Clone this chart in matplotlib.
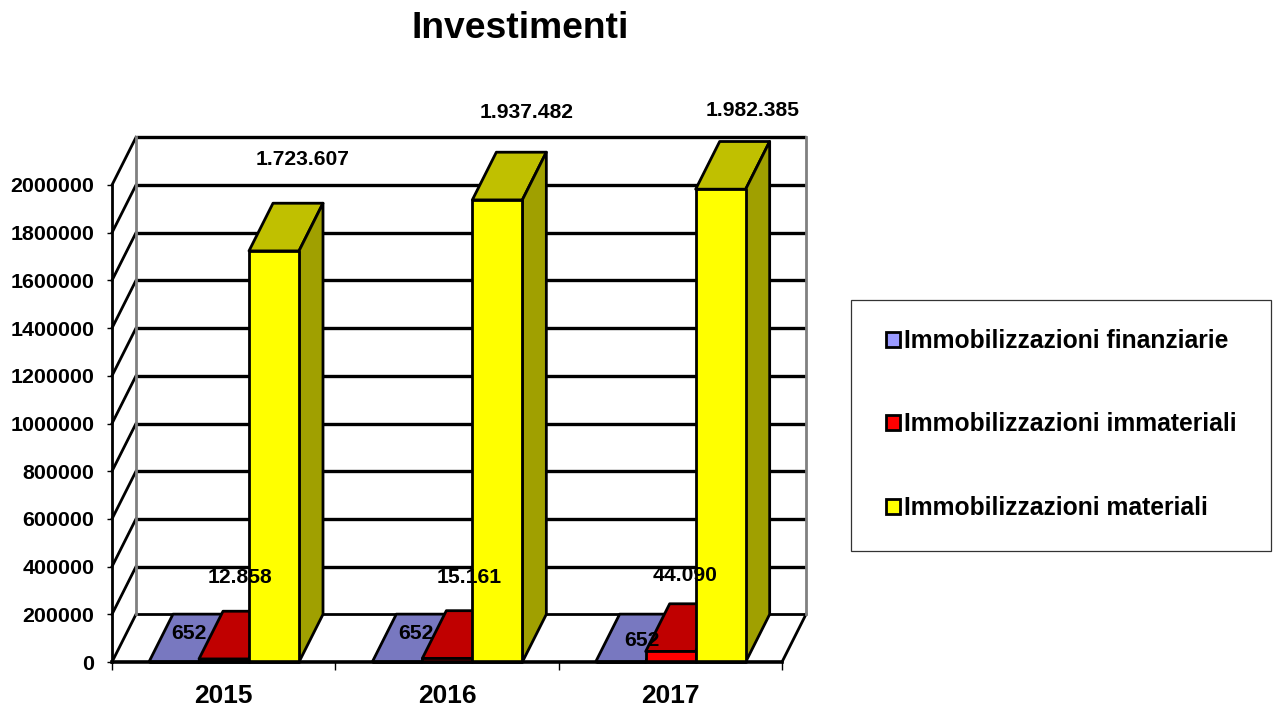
import matplotlib
matplotlib.use("Agg")
from matplotlib import pyplot as plt
from matplotlib.patches import Polygon, Rectangle, Patch

plt.rcParams["font.family"] = ["Liberation Sans", "DejaVu Sans"]
plt.rcParams["font.weight"] = "bold"

years = ["2015", "2016", "2017"]
series_names = ["Immobilizzazioni finanziarie", "Immobilizzazioni immateriali", "Immobilizzazioni materiali"]
finanziarie = [652, 652, 652]
immateriali = [12858, 15161, 44090]
materiali = [1723607, 1937482, 1982385]
y_ticks = list(range(0, 2000001, 200000))

# front, top, side colours of each series
front_colors = ["#9999ff", "#ff0000", "#ffff00"]
top_colors = ["#7878c0", "#c00000", "#c0c000"]
side_colors = ["#6060a0", "#a00000", "#a0a000"]

# label text and its offset from the front top centre of the bar, in pixels
fin_labels = ["652", "652", "652"]
imm_labels = ["12.858", "15.161", "44.090"]
mat_labels = ["1.723.607", "1.937.482", "1.982.385"]
fin_offsets = [(15, 28), (19, 28), (21, 21)]
imm_offsets = [(16, 81), (22, 81), (14, 76)]
mat_offsets = [(29, 91), (29, 87), (32, 79)]

W, H = 1273, 708
fig = plt.figure(figsize=(W / 100, H / 100), dpi=100)
ax = fig.add_axes([112 / W, (H - 662) / H, 670 / W, 477 / H])
ax.set_xlim(0, 3)
ax.set_ylim(0, 2000000)

# depth of the 3d box in data units
dx = 24 / (670 / 3)
dy = 200000
bar_w = 50 / (670 / 3)
bar_start = 37 / (670 / 3)
lw = 2.0

# walls
for v in y_ticks:
    if v > 0:
        ax.plot([0, dx], [v, v + dy], color="black", lw=lw, clip_on=False, zorder=1)
    ax.plot([dx, 3 + dx], [v + dy, v + dy], color="black", lw=lw + 0.4 if v else lw,
            clip_on=False, zorder=1, solid_capstyle="butt")
ax.plot([dx, dx], [dy, 2000000 + dy], color="#808080", lw=lw, clip_on=False, zorder=1.1)
ax.plot([3 + dx, 3 + dx], [dy, 2000000 + dy], color="#808080", lw=lw, clip_on=False, zorder=1.1)
ax.plot([0, dx], [0, dy], color="black", lw=lw, clip_on=False, zorder=1)
ax.plot([3, 3 + dx], [0, dy], color="black", lw=lw, clip_on=False, zorder=1)


def draw_bar(x, value, k):
    z = 2 + x
    common = dict(edgecolor="black", lw=lw, joinstyle="round", clip_on=False, zorder=z)
    ax.add_patch(Polygon([(x, value), (x + bar_w, value), (x + bar_w + dx, value + dy), (x + dx, value + dy)],
                         facecolor=top_colors[k], **common))
    ax.add_patch(Polygon([(x + bar_w, 0), (x + bar_w + dx, dy), (x + bar_w + dx, value + dy), (x + bar_w, value)],
                         facecolor=side_colors[k], **common))
    ax.add_patch(Rectangle((x, 0), bar_w, value, facecolor=front_colors[k], **common))


def draw_label(x, value, text, offset):
    ax.annotate(text, (x + bar_w / 2, value), xytext=offset, textcoords="offset pixels", ha="center", va="center",
                fontsize=15.2, fontweight="bold", color="black", zorder=20, annotation_clip=False)


for i in range(len(years)):
    x0 = i + bar_start
    for k, values in enumerate([finanziarie, immateriali, materiali]):
        draw_bar(x0 + k * bar_w, values[i], k)
    draw_label(x0, finanziarie[i], fin_labels[i], fin_offsets[i])
    draw_label(x0 + bar_w, immateriali[i], imm_labels[i], imm_offsets[i])
    draw_label(x0 + 2 * bar_w, materiali[i], mat_labels[i], mat_offsets[i])

# axes
for side in ["top", "right"]:
    ax.spines[side].set_visible(False)
for side in ["left", "bottom"]:
    ax.spines[side].set_linewidth(lw)
    ax.spines[side].set_zorder(10)
ax.spines["bottom"].set_linewidth(lw + 0.6)
ax.set_yticks(y_ticks)
ax.set_yticklabels([str(v) for v in y_ticks], fontsize=15.4, fontweight="bold")
ax.tick_params(axis="y", length=3.5, width=1, pad=9.2)
ax.set_xticks(range(4))
ax.set_xticklabels([])
ax.tick_params(axis="x", which="major", length=6, width=1)
ax.set_xticks([i + 0.5 for i in range(3)], labels=years, minor=True)
ax.tick_params(axis="x", which="minor", length=0, pad=16, labelsize=19)
for label in ax.get_xticklabels(minor=True):
    label.set_fontweight("bold")

fig.text(520 / W, 1 - 29 / H, "Investimenti", ha="center", va="center", fontsize=26.8, fontweight="bold")

# legend box
fig.add_artist(Rectangle((850.5 / W, 1 - 550.5 / H), 420 / W, 251 / H, transform=fig.transFigure,
                         facecolor="white", edgecolor="#333333", lw=0.9))
handles = [Patch(facecolor=c, edgecolor="black", lw=2) for c in front_colors]
fig.legend(handles, series_names, loc="center left", bbox_to_anchor=(886 / W, 1 - 424.5 / H), frameon=False,
           handlelength=0.56, handleheight=0.56, handletextpad=0.19, labelspacing=2.43,
           prop={"weight": "bold", "size": 17.7}, borderpad=0, borderaxespad=0)

fig.savefig("out.png", dpi=100)
